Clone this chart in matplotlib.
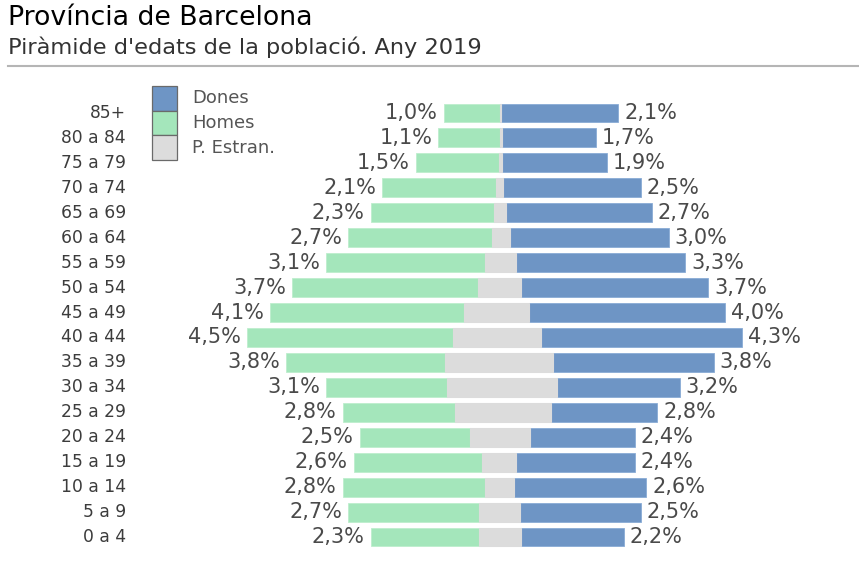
import matplotlib
matplotlib.use("Agg")
import matplotlib.pyplot as plt
from matplotlib.patches import Rectangle
import numpy as np

# ---- data ----
age_groups = ["0 a 4", "5 a 9", "10 a 14", "15 a 19", "20 a 24", "25 a 29",
              "30 a 34", "35 a 39", "40 a 44", "45 a 49", "50 a 54", "55 a 59",
              "60 a 64", "65 a 69", "70 a 74", "75 a 79", "80 a 84", "85+"]
homes = [2.3, 2.7, 2.8, 2.6, 2.5, 2.8, 3.1, 3.8, 4.5, 4.1, 3.7, 3.1,
         2.7, 2.3, 2.1, 1.5, 1.1, 1.0]
dones = [2.2, 2.5, 2.6, 2.4, 2.4, 2.8, 3.2, 3.8, 4.3, 4.0, 3.7, 3.3,
         3.0, 2.7, 2.5, 1.9, 1.7, 2.1]
estran_homes = [0.38, 0.37, 0.27, 0.32, 0.53, 0.80, 0.95, 0.98, 0.84, 0.64,
                0.39, 0.26, 0.15, 0.11, 0.07, 0.01, 0.005, 0.0]
estran_dones = [0.38, 0.36, 0.25, 0.28, 0.53, 0.90, 1.01, 0.94, 0.73, 0.51,
                0.38, 0.28, 0.18, 0.10, 0.06, 0.04, 0.03, 0.01]

title = "Província de Barcelona"
subtitle = "Piràmide d'edats de la població. Any 2019"
legend_labels = ["Dones", "Homes", "P. Estran."]

# ---- style ----
C_DONES = "#6e95c5"
C_HOMES = "#a4e6bb"
C_ESTR = "#dcdcdc"
TXT = "#3c3c3c"
LBL = "#4a4a4a"

W, H = 859, 576
fig = plt.figure(figsize=(W / 100, H / 100), dpi=100)
fig.patch.set_facecolor("white")
ax = fig.add_axes([0, 0, 1, 1])

cx = 500.0      # pixel of zero
ppu = 56.2      # pixels per percent
row0 = 537.0    # pixel y of first row (from top)
rstep = 24.94

ax.set_xlim((0 - cx) / ppu, (W - cx) / ppu)
ax.set_ylim((row0 - H) / rstep, row0 / rstep)
ax.axis("off")

y = np.arange(len(age_groups))
bh = 0.76
ax.barh(y, [-v for v in homes], height=bh, color=C_HOMES, edgecolor="#bdeecd", linewidth=0.6)
ax.barh(y, dones, height=bh, color=C_DONES, edgecolor="#89acd6", linewidth=0.6)
ax.barh(y, [a + b for a, b in zip(estran_homes, estran_dones)],
        left=[-a for a in estran_homes], height=bh, color=C_ESTR,
        edgecolor=C_ESTR, linewidth=0.8)

gap = 6 / ppu
for i in range(len(age_groups)):
    ax.text(-homes[i] - gap, y[i], f"{homes[i]:.1f}%".replace(".", ","),
            ha="right", va="center", fontsize=15, color=LBL)
    ax.text(dones[i] + gap, y[i], f"{dones[i]:.1f}%".replace(".", ","),
            ha="left", va="center", fontsize=15, color=LBL)
    ax.text((126 - cx) / ppu, y[i], age_groups[i], ha="right", va="center",
            fontsize=12.3, color=TXT)

# title / subtitle
fig.text(8 / W, 1 - 18 / H, title, fontsize=19.3, color="black", ha="left", va="center")
fig.text(8 / W, 1 - 47 / H, subtitle, fontsize=16.2, color="#333333", ha="left", va="center")
fig.add_artist(plt.Line2D([8 / W, 858 / W], [1 - 66 / H, 1 - 66 / H],
                          transform=fig.transFigure, color="#b5b5b5", linewidth=1.5))

# legend (drawn manually so the swatches touch)
leg_colors = [C_DONES, C_HOMES, C_ESTR]
sw_top = 86
sw_h = 24.7
for k, (lab, col) in enumerate(zip(legend_labels, leg_colors)):
    top = sw_top + k * sw_h
    fig.add_artist(Rectangle((152 / W, 1 - (top + sw_h) / H), 25 / W, sw_h / H,
                             transform=fig.transFigure, facecolor=col,
                             edgecolor="#6a6a6a", linewidth=0.9))
    fig.text(192 / W, 1 - (top + sw_h / 2) / H, lab, fontsize=13,
             color="#555555", ha="left", va="center")

fig.savefig("out.png", dpi=100, facecolor="white")
